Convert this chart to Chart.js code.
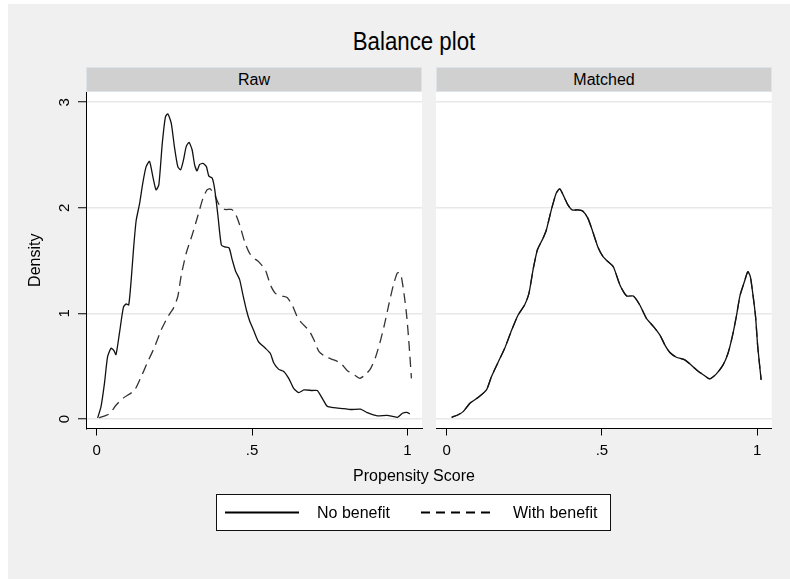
<!DOCTYPE html>
<html>
<head>
<meta charset="utf-8">
<script src="https://cdn.jsdelivr.net/npm/chart.js@4.4.1/dist/chart.umd.min.js"></script>
<style>
    body { margin: 0; background: #ffffff; font-family: Arial, "Liberation Sans", sans-serif; }
    #page { position: relative; width: 790px; height: 579px; overflow: hidden; }
    #bg { position: absolute; left: 8px; top: 4px; right: 0; bottom: 0; background: #f0f0f0; }
    canvas { position: absolute; left: 0; top: 0; }
    .txt { position: absolute; color: #000; white-space: nowrap; }
    .strip { position: absolute; top: 67px; height: 25px; line-height: 23px; box-sizing: border-box;
        background: #d0d0d0; border: 1px solid #dde3e9; text-align: center; font-size: 16px; }
    #title { left: 214px; width: 400px; top: 26px; text-align: center; font-size: 25px; line-height: 30px;
        transform: scaleX(0.89); }
    #xtitle { left: 264px; width: 300px; top: 466px; text-align: center; font-size: 16px; line-height: 19px; }
    #legend { position: absolute; left: 216px; top: 494px; width: 395px; height: 37px; box-sizing: border-box;
        background: #fff; border: 1px solid #111; }
    #legend svg { position: absolute; left: 0; top: 0; }
    #legend .txt { top: 8px; font-size: 16px; line-height: 19px; }
</style>
</head>
<body>
<div id="page">
    <div id="bg"></div>
    <div class="txt" id="title">Balance plot</div>
    <div class="strip" style="left:86px; width:336px;">Raw</div>
    <div class="strip" style="left:436px; width:336px;">Matched</div>
    <canvas id="rawChart" width="790" height="579"></canvas>
    <canvas id="matchedChart" width="790" height="579"></canvas>
    <div class="txt" id="xtitle">Propensity Score</div>
    <div id="legend">
        <svg width="395" height="37">
            <line x1="8" y1="17.5" x2="82" y2="17.5" stroke="#000" stroke-width="1.8"/>
            <line x1="204" y1="17.5" x2="279" y2="17.5" stroke="#000" stroke-width="1.8" stroke-dasharray="9 6"/>
        </svg>
        <span class="txt" style="left:100px;">No benefit</span>
        <span class="txt" style="left:296px;">With benefit</span>
    </div>
</div>
<script>
// Raw panel, no benefit (solid)
const rawNoBenefitX = [0.003, 0.014, 0.025, 0.035, 0.046, 0.055, 0.062, 0.073, 0.086, 0.095, 0.103, 0.111,
    0.119, 0.127, 0.138, 0.148, 0.159, 0.170, 0.181, 0.191, 0.200, 0.211, 0.221, 0.229, 0.240, 0.250, 0.261,
    0.270, 0.279, 0.288, 0.297, 0.307, 0.315, 0.323, 0.331, 0.342, 0.353, 0.361, 0.372, 0.380, 0.390, 0.401,
    0.412, 0.426, 0.436, 0.447, 0.460, 0.471, 0.482, 0.492, 0.505, 0.521, 0.543, 0.559, 0.570, 0.586, 0.602,
    0.618, 0.634, 0.650, 0.667, 0.694, 0.710, 0.726, 0.742, 0.763, 0.795, 0.817, 0.849, 0.871, 0.903, 0.935,
    0.968, 0.984, 0.998, 1.008];
const rawNoBenefitY = [0.01, 0.12, 0.34, 0.59, 0.67, 0.65, 0.61, 0.81, 1.06, 1.09, 1.08, 1.32,
    1.63, 1.88, 2.04, 2.23, 2.39, 2.44, 2.29, 2.17, 2.22, 2.61, 2.86, 2.89, 2.80, 2.58, 2.39,
    2.36, 2.45, 2.58, 2.62, 2.55, 2.41, 2.35, 2.41, 2.42, 2.39, 2.30, 2.28, 2.17, 1.93, 1.65,
    1.63, 1.62, 1.51, 1.40, 1.32, 1.17, 1.03, 0.93, 0.84, 0.73, 0.67, 0.62, 0.53, 0.47, 0.45,
    0.385, 0.29, 0.25, 0.275, 0.27, 0.27, 0.195, 0.12, 0.107, 0.098, 0.09, 0.093, 0.06, 0.03, 0.035,
    0.016, 0.054, 0.063, 0.047];

// Raw panel, with benefit (dashed)
const rawWithBenefitX = [0.008, 0.041, 0.062, 0.084, 0.121, 0.143, 0.164, 0.186, 0.207, 0.229, 0.247, 0.261,
    0.272, 0.288, 0.307, 0.326, 0.342, 0.355, 0.365, 0.380, 0.394, 0.412, 0.433, 0.444, 0.460, 0.476, 0.492,
    0.508, 0.521, 0.543, 0.559, 0.575, 0.597, 0.613, 0.629, 0.645, 0.661, 0.683, 0.699, 0.715, 0.736, 0.763,
    0.785, 0.806, 0.833, 0.847, 0.865, 0.882, 0.898, 0.914, 0.927, 0.941, 0.955, 0.968, 0.978, 0.989, 0.998,
    1.005, 1.013];
const rawWithBenefitY = [0.01, 0.05, 0.13, 0.195, 0.27, 0.40, 0.54, 0.68, 0.84, 0.97, 1.05, 1.16,
    1.36, 1.57, 1.74, 1.93, 2.09, 2.17, 2.18, 2.12, 2.03, 1.985, 1.985, 1.96, 1.84, 1.68, 1.57,
    1.52, 1.49, 1.41, 1.27, 1.19, 1.165, 1.15, 1.08, 0.97, 0.905, 0.84, 0.75, 0.64, 0.59, 0.56,
    0.53, 0.46, 0.41, 0.385, 0.42, 0.48, 0.59, 0.75, 0.905, 1.095, 1.27, 1.385, 1.38, 1.19, 0.97,
    0.72, 0.385];

// Matched panel: both groups lie on the same curve
const matchedX = [0.016, 0.037, 0.053, 0.075, 0.102, 0.128, 0.144, 0.166, 0.187, 0.209, 0.230, 0.251,
    0.265, 0.278, 0.292, 0.310, 0.321, 0.337, 0.353, 0.364, 0.374, 0.390, 0.404, 0.422, 0.438, 0.455, 0.471,
    0.487, 0.503, 0.516, 0.537, 0.558, 0.580, 0.601, 0.622, 0.644, 0.665, 0.687, 0.703, 0.719, 0.740, 0.767,
    0.788, 0.809, 0.831, 0.847, 0.868, 0.890, 0.906, 0.920, 0.933, 0.945, 0.959, 0.970, 0.978, 0.986, 0.995,
    1.002, 1.013];
const matchedY = [0.016, 0.04, 0.07, 0.15, 0.205, 0.275, 0.40, 0.54, 0.67, 0.84, 0.985, 1.08,
    1.19, 1.41, 1.60, 1.71, 1.79, 1.98, 2.14, 2.18, 2.13, 2.03, 1.98, 1.98, 1.97, 1.90, 1.77,
    1.63, 1.54, 1.50, 1.44, 1.27, 1.165, 1.165, 1.08, 0.95, 0.88, 0.795, 0.70, 0.63, 0.585, 0.56,
    0.51, 0.455, 0.41, 0.38, 0.425, 0.51, 0.62, 0.78, 0.97, 1.17, 1.30, 1.395, 1.35, 1.19, 0.97,
    0.685, 0.37];

const xTickValues = [0, 0.5, 1];
const xTickLabels = ["0", ".5", "1"];
const yTickValues = [0, 1, 2, 3];
const yTickLabels = ["0", "1", "2", "3"];

const FONT = "Arial, 'Liberation Sans', sans-serif";

function toPoints(xs, ys) {
    return xs.map((x, i) => ({ x: x, y: ys[i] }));
}

// white plot region behind the grid
const plotBackground = {
    id: "plotBackground",
    beforeDraw(chart) {
        const { ctx, chartArea } = chart;
        ctx.save();
        ctx.fillStyle = "#ffffff";
        ctx.fillRect(chartArea.left, chartArea.top, chartArea.right - chartArea.left, chartArea.bottom - chartArea.top);
        ctx.restore();
    }
};

function lineSet(label, points, dashed) {
    return {
        label: label,
        data: points,
        borderColor: dashed ? "#333333" : "#111111",
        borderWidth: 1.3,
        borderDash: dashed ? [10, 6] : [],
        pointRadius: 0,
        tension: 0.2,
        fill: false
    };
}

function makePanel(canvasId, datasets, left, right, showYAxis) {
    const ctx = document.getElementById(canvasId).getContext("2d");
    return new Chart(ctx, {
        type: "line",
        data: { datasets: datasets },
        plugins: [plotBackground],
        options: {
            responsive: false,
            animation: false,
            devicePixelRatio: 1,
            layout: { padding: { left: showYAxis ? 0 : left, top: 92, right: 790 - right, bottom: 110.5 } },
            plugins: { legend: { display: false }, tooltip: { enabled: false } },
            scales: {
                x: {
                    type: "linear",
                    min: -0.0345,
                    max: 1.047,
                    afterBuildTicks: (scale) => { scale.ticks = xTickValues.map(v => ({ value: v })); },
                    afterFit: (scale) => { scale.height = 40; },
                    ticks: {
                        autoSkip: false,
                        maxRotation: 0,
                        padding: 6,
                        color: "#000",
                        font: { family: FONT, size: 15 },
                        callback: (v) => xTickLabels[xTickValues.indexOf(v)]
                    },
                    grid: { drawOnChartArea: false, drawTicks: true, tickLength: 7, tickColor: "#000", color: "#000" },
                    border: { display: true, color: "#000", width: 1 }
                },
                y: {
                    type: "linear",
                    min: -0.09,
                    max: 3.097,
                    afterBuildTicks: (scale) => { scale.ticks = yTickValues.map(v => ({ value: v })); },
                    afterFit: (scale) => { scale.width = showYAxis ? left : 0; },
                    ticks: {
                        display: showYAxis,
                        minRotation: 90,
                        maxRotation: 90,
                        crossAlign: "center",
                        padding: 9,
                        color: "#000",
                        font: { family: FONT, size: 15 },
                        callback: (v) => yTickLabels[yTickValues.indexOf(v)]
                    },
                    grid: {
                        color: "#e8e8e8",
                        lineWidth: 1.5,
                        drawTicks: showYAxis,
                        tickLength: 8,
                        tickColor: "#000",
                        tickWidth: 1
                    },
                    border: { display: showYAxis, color: "#000", width: 1 },
                    title: {
                        display: showYAxis,
                        text: "Density",
                        color: "#000",
                        font: { family: FONT, size: 16 },
                        padding: { top: 26 }
                    }
                }
            }
        }
    });
}

makePanel("rawChart", [
    lineSet("No benefit", toPoints(rawNoBenefitX, rawNoBenefitY), false),
    lineSet("With benefit", toPoints(rawWithBenefitX, rawWithBenefitY), true)
], 86, 422, true);

makePanel("matchedChart", [
    lineSet("No benefit", toPoints(matchedX, matchedY), false),
    lineSet("With benefit", toPoints(matchedX, matchedY), true)
], 436, 771.7, false);
</script>
</body>
</html>
